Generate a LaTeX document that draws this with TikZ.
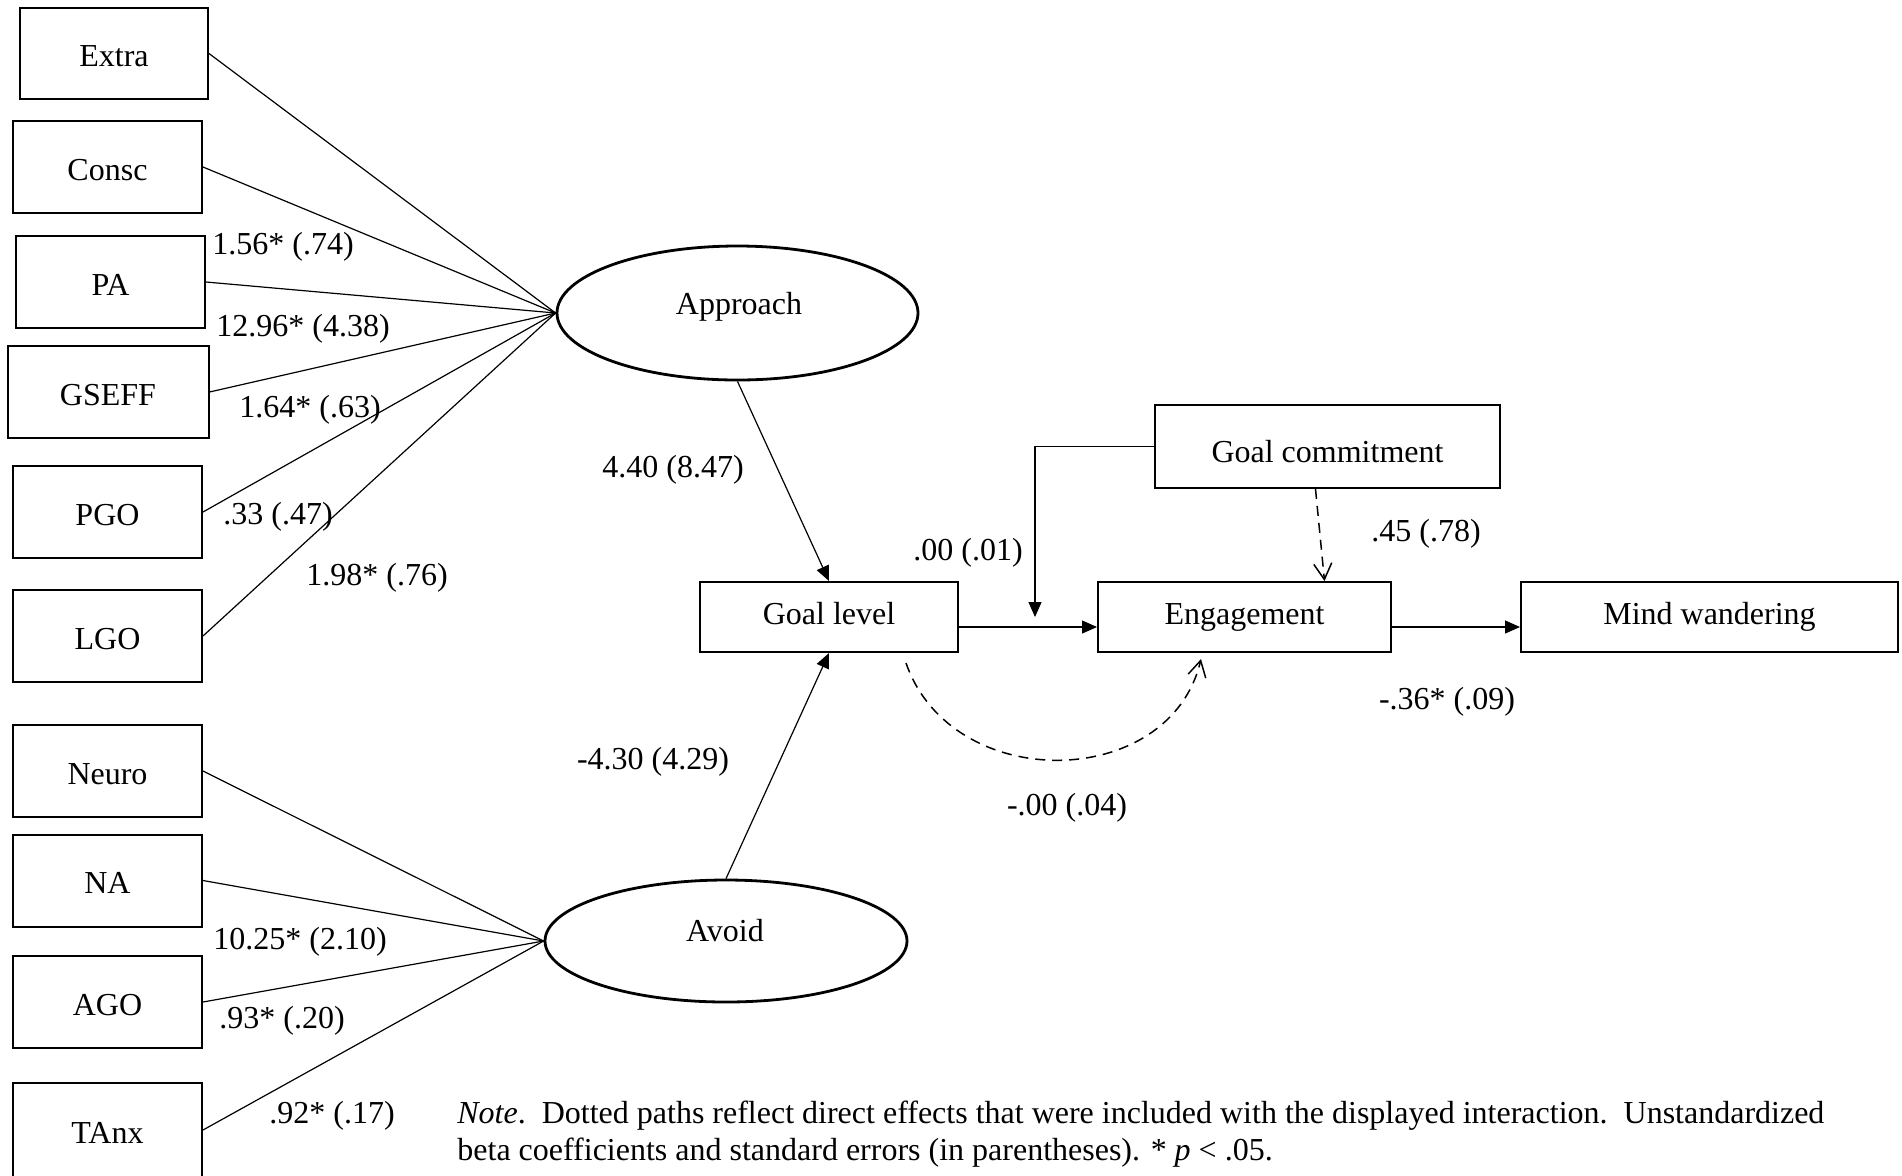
\documentclass[tikz,border=0pt]{standalone}
\usepackage{fontspec}
\setmainfont{Liberation Serif}
\usetikzlibrary{arrows.meta,shapes.geometric}
\begin{document}
\begin{tikzpicture}[x=0.5pt,y=-0.5pt,
  every node/.style={font=\fontsize{16}{18.5}\selectfont, inner sep=0pt},
  obs/.style={draw, line width=1pt, rectangle, minimum width=94.5pt, minimum height=46pt, text height=13pt, text depth=0pt},
  midrow/.style={obs, minimum height=35pt, text height=10.9pt, text depth=3.6pt},
  latent/.style={draw, line width=1.4pt, ellipse},
  path/.style={line width=0.6pt},
  arr/.style={line width=0.6pt, -{Triangle[length=7.5pt,width=6.5pt]}},
  darr/.style={line width=0.75pt, dash pattern=on 5pt off 3.5pt, -{Straight Barb[length=8pt,width=9pt]}},
  ]
\useasboundingbox (0,0) rectangle (1902,1175);

% indicators of the approach factor
\node[obs, minimum width=94pt, minimum height=45.5pt] (extra) at (114,53.5) {Extra};
\node[obs] (consc) at (107.5,167) {Consc};
\node[obs] (pa) at (110.5,282) {PA};
\node[obs, minimum width=100.5pt] (gseff) at (108,392) {GSEFF};
\node[obs] (pgo) at (107.5,512) {PGO};
\node[obs] (lgo) at (107.5,636) {LGO};

% indicators of the avoid factor
\node[obs] (neuro) at (107.5,771) {Neuro};
\node[obs] (na) at (107.5,880.5) {NA};
\node[obs] (ago) at (107.5,1002) {AGO};
\node[obs, minimum height=47pt] (tanx) at (107.5,1130) {TAnx};

% latent factors
\node[latent, minimum width=180.5pt, minimum height=67pt] (app) at (737.5,313) {};
\node (appt) at (739,307) {Approach};
\node[latent, minimum width=181pt, minimum height=61pt] (av) at (726,941) {};
\node (avt) at (725,930.5) {Avoid};

% outcome chain
\node[midrow, minimum width=129pt] (gl) at (829,617) {Goal level};
\node[midrow, minimum width=146.5pt] (eng) at (1244.5,617) {Engagement};
\node[midrow, minimum width=188.5pt] (mw) at (1709.5,617) {Mind wandering};
\node[obs, minimum width=172.5pt, minimum height=41.5pt, text height=16pt, text depth=0pt] (gc) at (1327.5,446.5) {Goal commitment};

% loadings
\foreach \n in {extra,consc,pa,gseff,pgo,lgo} \draw[path] (\n.east) -- (app.west);
\foreach \n in {neuro,na,ago,tanx} \draw[path] (\n.east) -- (av.west);

% structural paths
\draw[arr] (app.south) -- (gl.north);
\draw[arr] (av.north) -- (gl.south);
\draw[arr] ([yshift=-5pt]gl.east) -- ([yshift=-5pt]eng.west);
\draw[arr] ([yshift=-5pt]eng.east) -- ([yshift=-5pt]mw.west);
\coordinate (mod) at (1035,617);
\draw[arr] (gc.west) -| (mod);

% direct effects included with the interaction
\draw[darr] ([xshift=-6pt]gc.south) -- ([xshift=40pt]eng.north);
\draw[darr] ([xshift=38.5pt,yshift=-5pt]gl.south) .. controls (952,795) and (1170,791) .. ([xshift=-21.75pt,yshift=-3pt]eng.south);

% coefficients
\node (c1) at (283,247) {1.56* (.74)};
\node (c2) at (303,329) {12.96* (4.38)};
\node (c3) at (310,410) {1.64* (.63)};
\node (c4) at (278,517) {.33 (.47)};
\node (c5) at (377,578) {1.98* (.76)};
\node (c6) at (300,942) {10.25* (2.10)};
\node (c7) at (282,1021) {.93* (.20)};
\node (c8) at (332,1116) {.92* (.17)};
\node (c9) at (673,470) {4.40 (8.47)};
\node (c10) at (653,762) {-4.30 (4.29)};
\node (c11) at (968,553) {.00 (.01)};
\node (c12) at (1426,534) {.45 (.78)};
\node (c13) at (1447,702) {-.36* (.09)};
\node (c14) at (1067,808) {-.00 (.04)};

% note
\node[anchor=base west] (note1) at (457,1123) {\textit{Note}.\ \ Dotted paths reflect direct effects that were included with the displayed interaction.\ \ Unstandardized};
\node[anchor=base west] (note2) at (457,1160) {beta coefficients and standard errors (in parentheses). * \textit{p} < .05.};
\end{tikzpicture}
\end{document}
